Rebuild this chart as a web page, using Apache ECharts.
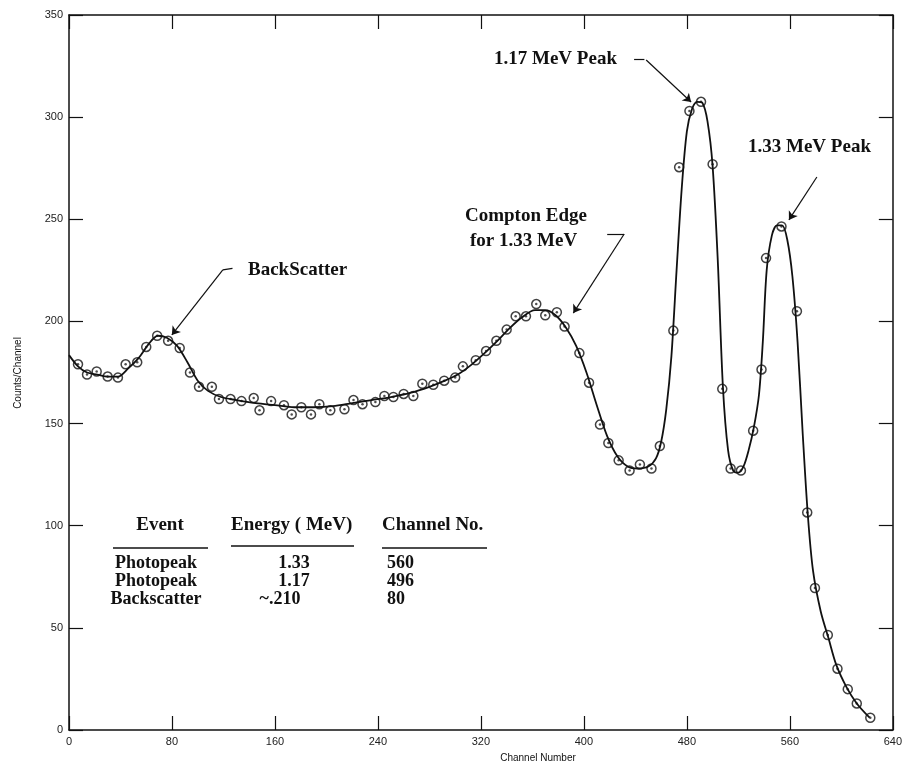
<!DOCTYPE html>
<html>
<head>
<meta charset="utf-8">
<script src="https://cdn.jsdelivr.net/npm/echarts@6/dist/echarts.min.js"></script>
<style>
html, body { margin: 0; padding: 0; background: #fff; }
#main { width: 905px; height: 771px; }
</style>
</head>
<body>
<div id="main"></div>
<script>
// measured points (channel, counts/channel)
var channels = [7, 14, 21.5, 30, 38, 44, 53, 60, 68.5, 77, 86, 94, 101, 111, 116.5, 125.5, 134, 143.5, 148, 157,
  167, 173, 180.5, 188, 194.5, 203, 214, 221, 228, 238, 245, 252, 260, 267.5, 274.5, 283, 291.5, 300, 306, 316,
  324, 332, 340, 347, 355, 363, 370, 379, 385, 396.5, 404, 412.5, 419, 427, 435.5, 443.5, 452.5, 459, 469.5, 474,
  482, 491, 500, 507.5, 514, 522, 531.5, 538, 541.5, 553.5, 565.5, 573.5, 579.5, 589.5, 597, 605, 612, 622.5];
var counts = [179, 174, 175.5, 173, 172.5, 179, 180, 187.5, 193, 190.5, 187, 175, 168, 168, 162, 162, 161, 162.5, 156.5, 161,
  159, 154.5, 158, 154.5, 159.5, 156.5, 157, 161.5, 159.5, 160.5, 163.5, 163, 164.5, 163.5, 169.5, 169, 171, 172.5, 178, 181,
  185.5, 190.5, 196, 202.5, 202.5, 208.5, 203, 204.5, 197.5, 184.5, 170, 149.5, 140.5, 132, 127, 130, 128, 139, 195.5, 275.5,
  303, 307.5, 277, 167, 128, 127, 146.5, 176.5, 231, 246.5, 205, 106.5, 69.5, 46.5, 30, 20, 13, 6];

// hand-drawn fitted curve
var fitChannels = [0, 7, 14, 22, 30, 38, 46, 54, 62, 69, 76, 84, 92, 100, 108, 118, 130, 145, 160, 175,
  190, 205, 220, 235, 250, 265, 280, 292, 302, 312, 322, 332, 342, 352, 362, 370, 378, 386, 394, 402,
  410, 418, 426, 434, 442, 450, 456, 460, 464, 468, 472, 476, 480, 484, 488, 492, 496, 500, 504, 508,
  512, 516, 520, 524, 528, 532, 536, 539, 542, 546, 550, 554, 558, 562, 566, 570, 574, 578, 584, 590,
  596, 604, 612, 622];
var fitCounts = [183.5, 178, 175, 174, 173, 173, 177, 182, 189, 193, 192, 188, 180, 171, 166, 163, 161.5, 160, 159, 158,
  158, 158.5, 160, 161.5, 163, 165, 168, 171, 174, 178.5, 184, 190, 196.5, 202, 205.5, 205.5, 203, 197, 188, 175,
  159, 144, 134, 129, 128, 129, 133, 141, 157, 183, 225, 265, 293, 304, 307.5, 307, 298, 276, 230, 168,
  137, 127, 126, 129, 137, 148, 164, 190, 225, 242, 247, 247, 240, 222, 190, 145, 105, 78, 58, 45,
  32, 21, 13, 6];

// table
var events = ['Photopeak', 'Photopeak', 'Backscatter'];
var energies = ['1.33', '1.17', '~.210'];
var channelNos = ['560', '496', '80'];

// annotation arrows in data units: [from, to, arrowhead]
var arrows = [
  [[439, 328.5], [447, 328.5], false],
  [[448.4, 328], [483.3, 307.4], true],
  [[581, 270.7], [559.3, 249.7], true],
  [[127, 226], [119.5, 225.2], false],
  [[119.5, 225.2], [79.9, 193.4], true],
  [[418.1, 242.8], [431.3, 242.8], false],
  [[431.3, 242.8], [391.8, 204.1], true]
];

var fitData = fitChannels.map(function (c, i) { return [c, fitCounts[i]]; });
var pointData = channels.map(function (c, i) { return [c, counts[i]]; });

var serif = '"Liberation Serif", "DejaVu Serif", serif';
var sans = '"Liberation Sans", Arial, sans-serif';

function txt(s, x, y, opts) {
  opts = opts || {};
  return {
    type: 'text', x: x, y: y, rotation: opts.rot || 0, silent: true,
    style: {
      text: s, fill: '#111',
      font: opts.font || ('bold 19px ' + serif),
      align: opts.align || 'left', verticalAlign: 'middle'
    }
  };
}
function hline(x1, x2, y) {
  return { type: 'line', silent: true, shape: { x1: x1, y1: y, x2: x2, y2: y }, style: { stroke: '#111', lineWidth: 1.5 } };
}

var graphics = [
  txt('1.17 MeV Peak', 494, 59),
  txt('1.33 MeV Peak', 748, 147),
  txt('BackScatter', 248, 270),
  txt('Compton Edge', 465, 216),
  txt('for 1.33 MeV', 470, 241),
  txt('Channel Number', 538, 758, { font: '10px ' + sans, align: 'center' }),
  txt('Counts/Channel', 18, 373, { font: '10px ' + sans, align: 'center', rot: Math.PI / 2 }),
  txt('Event', 160, 525, { align: 'center' }),
  txt('Energy ( MeV)', 231, 525),
  txt('Channel No.', 382, 525),
  hline(113, 208, 548),
  hline(231, 354, 546),
  hline(382, 487, 548)
];
var rowY = [563, 581, 599];
var col2 = [294, 294, 280];
for (var i = 0; i < events.length; i++) {
  graphics.push(txt(events[i], 156, rowY[i], { align: 'center', font: 'bold 18px ' + serif }));
  graphics.push(txt(energies[i], col2[i], rowY[i], { align: 'center', font: 'bold 18px ' + serif }));
  graphics.push(txt(channelNos[i], 387, rowY[i], { font: 'bold 18px ' + serif }));
}

var axisLine = { show: true, onZero: false, lineStyle: { color: '#111', width: 1.5 } };
var tick = { show: true, inside: true, length: 14, lineStyle: { color: '#111', width: 1.2 } };

var myChart = echarts.init(document.getElementById('main'));
myChart.setOption({
  animation: false,
  backgroundColor: '#fff',
  grid: { left: 69, right: 11, top: 15, bottom: 41 },
  xAxis: [
    {
      type: 'value', position: 'bottom', min: 0, max: 640, interval: 80,
      axisLine: axisLine, axisTick: tick, splitLine: { show: false },
      axisLabel: { color: '#222', fontSize: 11, fontFamily: sans, margin: 6 }
    },
    {
      type: 'value', position: 'top', min: 0, max: 640, interval: 80,
      axisLine: axisLine, axisTick: tick, splitLine: { show: false }, axisLabel: { show: false }
    }
  ],
  yAxis: [
    {
      type: 'value', position: 'left', min: 0, max: 350, interval: 50,
      axisLine: axisLine, axisTick: tick, splitLine: { show: false },
      axisLabel: { color: '#222', fontSize: 11, fontFamily: sans, margin: 6 }
    },
    {
      type: 'value', position: 'right', min: 0, max: 350, interval: 50,
      axisLine: axisLine, axisTick: tick, splitLine: { show: false }, axisLabel: { show: false }
    }
  ],
  series: [
    {
      type: 'line', data: fitData, smooth: 0.3, showSymbol: false, silent: true,
      lineStyle: { color: '#111', width: 1.8 },
      markLine: {
        silent: true, symbol: ['none', 'arrow'], symbolSize: 8,
        label: { show: false },
        lineStyle: { color: '#111', width: 1.2, type: 'solid' },
        emphasis: { disabled: true },
        data: arrows.map(function (a) {
          return [{ coord: a[0], symbol: 'none' }, { coord: a[1], symbol: a[2] ? 'arrow' : 'none' }];
        })
      }
    },
    {
      type: 'scatter', data: pointData, symbol: 'circle', symbolSize: 9, silent: true,
      itemStyle: { color: '#fff', borderColor: '#111', borderWidth: 1.5 }
    },
    {
      type: 'scatter', data: pointData, symbol: 'circle', symbolSize: 2.5, silent: true,
      itemStyle: { color: '#222' }
    }
  ],
  graphic: graphics
});
window.onresize = myChart.resize;
</script>
</body>
</html>
